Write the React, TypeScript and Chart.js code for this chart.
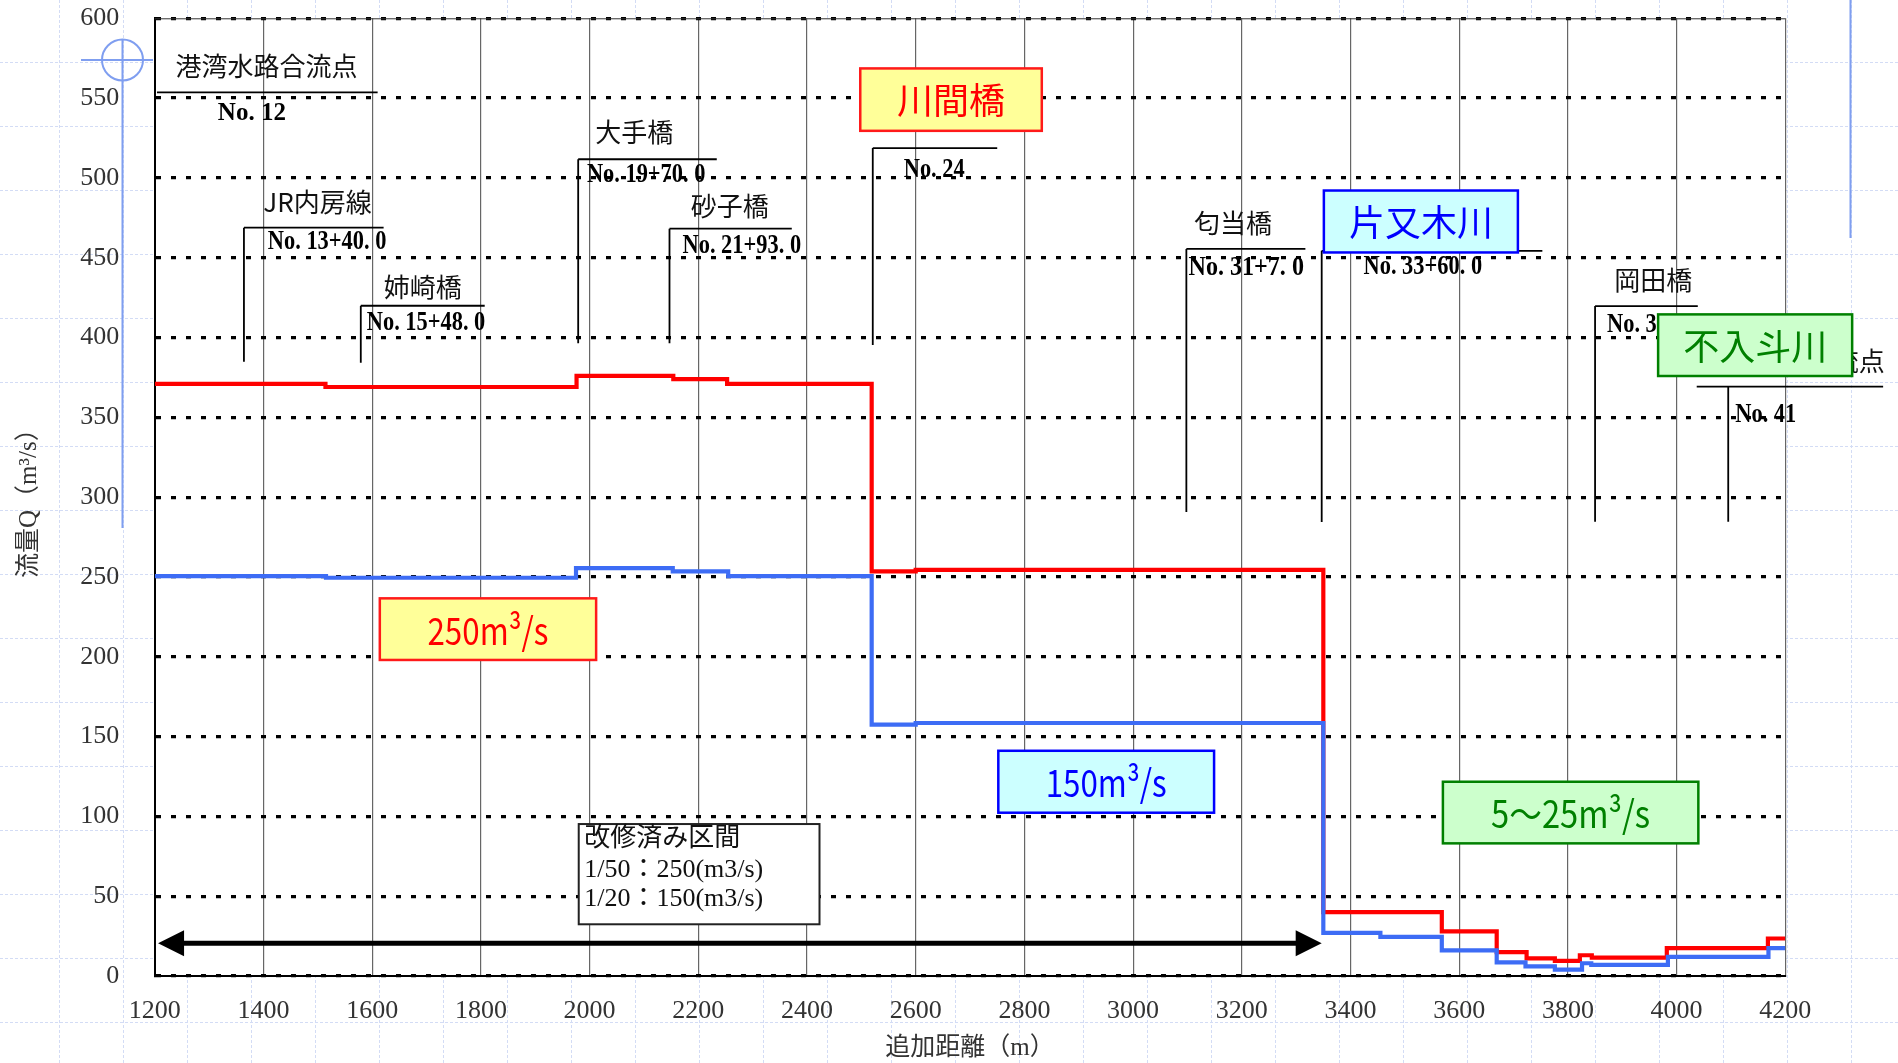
import React, { useEffect, useRef } from 'react';
import { Chart, registerables } from 'chart.js';

Chart.register(...registerables);

// ---------------- data ----------------
const xMin = 1200;
const xMax = 4200;
const xStep = 200;
const yMin = 0;
const yMax = 600;
const yStep = 50;

const xTitle = '追加距離（m）';
const yTitle = '流量Q（m³/s）';

// 1/50 design flow (red), value holds from each distance up to the next one
const redDistance = [1200, 1514, 1976, 2154, 2253, 2519, 2600, 3350, 3568, 3669, 3724, 3776, 3822, 3844, 3982, 4168, 4200];
const redFlow = [371, 369, 376, 374, 371, 253.5, 254.5, 40, 28, 15, 11, 9.5, 13, 11.5, 17.5, 23.5, 23.5];

// 1/20 design flow (blue)
const blueDistance = [1200, 1515, 1975, 2153, 2255, 2519, 2600, 3350, 3455, 3568, 3669, 3722, 3776, 3826, 3843, 3984, 4169, 4200];
const blueFlow = [250.5, 249.5, 255.5, 253.5, 250.5, 157.5, 158.5, 27, 24.5, 16, 8.5, 6, 4, 8, 7, 12, 17.5, 17.5];

// ---------------- annotation layout (data units: x = m, y = m3/s) ----------------
type Leader = {
  vx?: number; vBottom?: number; hy: number; hStart: number; hEnd: number;
  name?: string; nameX?: number; nameY?: number; nameAlign?: CanvasTextAlign;
  no?: string; noX?: number; noY?: number; noSize?: number; noScale?: number;
};

const leaders: Leader[] = [
  { hy: 553.6, hStart: 1204, hEnd: 1610, name: '港湾水路合流点', nameX: 1405.5, nameY: 569.8, no: 'No. 12', noX: 1316, noY: 540.3, noSize: 25, noScale: 1 },
  { vx: 1364, vBottom: 384.9, hy: 468.8, hStart: 1364, hEnd: 1621, name: 'JR内房線', nameX: 1499.5, nameY: 484.9, no: 'No. 13+40. 0', noX: 1408, noY: 459.8 },
  { vx: 1579, vBottom: 384.2, hy: 419.9, hStart: 1579, hEnd: 1807, name: '姉崎橋', nameX: 1693, nameY: 431.8, no: 'No. 15+48. 0', noX: 1590, noY: 409.1 },
  { vx: 1979, vBottom: 396.4, hy: 511.7, hStart: 1979, hEnd: 2234, name: '大手橋', nameX: 2082, nameY: 528.4, no: 'No. 19+70. 0', noX: 1995, noY: 502.1 },
  { vx: 2147, vBottom: 396.4, hy: 468.2, hStart: 2147, hEnd: 2372, name: '砂子橋', nameX: 2258, nameY: 482.4, no: 'No. 21+93. 0', noX: 2171, noY: 457.3 },
  { vx: 2521, vBottom: 395.4, hy: 518.7, hStart: 2521, hEnd: 2750, no: 'No. 24', noX: 2578, noY: 505 },
  { vx: 3098, vBottom: 290.7, hy: 455.5, hStart: 3098, hEnd: 3317, name: '匂当橋', nameX: 3184, nameY: 471.7, no: 'No. 31+7. 0', noX: 3102, noY: 443.9, noScale: 0.86 },
  { vx: 3347, vBottom: 284.4, hy: 454.3, hStart: 3347, hEnd: 3753, no: 'No. 33+60. 0', noX: 3424, noY: 444.5 },
  { vx: 3850, vBottom: 284.6, hy: 419.7, hStart: 3850, hEnd: 4039, name: '岡田橋', nameX: 3957, nameY: 436, no: 'No. 38', noX: 3872, noY: 407.8 },
  { vx: 4095, vBottom: 284.6, hy: 369.2, hStart: 4037, hEnd: 4380, name: '不入斗川合流点', nameX: 4383, nameY: 385.3, nameAlign: 'right', no: 'No. 41', noX: 4108, noY: 351.5 },
];

type Box = {
  x1: number; x2: number; y1: number; y2: number; text: string;
  fill: string; stroke: string; color: string; size: number; fitWidth?: number;
};

const boxes: Box[] = [
  { x1: 2498, x2: 2832, y1: 568.6, y2: 529.5, text: '川間橋', fill: '#ffff99', stroke: '#ff1a1a', color: '#ff0000', size: 36 },
  { x1: 3351, x2: 3708, y1: 492.1, y2: 453.3, text: '片又木川', fill: '#ccffff', stroke: '#0000ff', color: '#0000ff', size: 36 },
  { x1: 3966, x2: 4323, y1: 414.5, y2: 375.9, text: '不入斗川', fill: '#ccffcc', stroke: '#008000', color: '#008000', size: 36 },
  { x1: 1614, x2: 2012, y1: 236.6, y2: 198, text: '250m³/s', fill: '#ffff99', stroke: '#ff1a1a', color: '#ff0000', size: 38, fitWidth: 121 },
  { x1: 2752, x2: 3149, y1: 141.1, y2: 102.3, text: '150m³/s', fill: '#ccffff', stroke: '#0000ff', color: '#0000ff', size: 38, fitWidth: 121 },
  { x1: 3570, x2: 4040, y1: 121.7, y2: 83.1, text: '5～25m³/s', fill: '#ccffcc', stroke: '#008000', color: '#008000', size: 38, fitWidth: 159 },
];

const noteBox = { x1: 1980, x2: 2423, y1: 95.2, y2: 32.4, textX: 1990 };
const noteLines = ['改修済み区間', '1/50：250(m3/s)', '1/20：150(m3/s)'];
const noteLineY = [85.8, 66.4, 48.2];

const arrow = { x1: 1206, x2: 3347, y: 20.5 };

// ---------------- styles ----------------
const W = 1898;
const H = 1063;
const RED = '#ff0000';
const BLUE = '#3d6cf5';
const SERIF = "'Liberation Serif', 'Noto Sans CJK JP', serif";
const GOTHIC = "'Noto Sans CJK JP', 'Noto Sans', sans-serif";
const DECO = '#7f9ef0';

function drawText(
  ctx: CanvasRenderingContext2D, text: string, x: number, y: number, font: string,
  color: string, align: CanvasTextAlign, scaleX = 1,
) {
  ctx.save();
  ctx.font = font;
  ctx.fillStyle = color;
  ctx.textBaseline = 'middle';
  ctx.textAlign = align;
  ctx.translate(x, y);
  ctx.scale(scaleX, 1);
  ctx.fillText(text, 0, 0);
  ctx.restore();
}

const annotationPlugin = {
  id: 'slideAnnotations',
  beforeDraw(chart: any) {
    const { ctx, chartArea, width, height } = chart;
    ctx.save();
    ctx.fillStyle = '#ffffff';
    ctx.fillRect(0, 0, width, height);
    // slide background grid
    ctx.strokeStyle = '#d3dcf5';
    ctx.lineWidth = 1;
    ctx.setLineDash([3, 2]);
    for (let x = 59; x < width; x += 64) {
      ctx.beginPath();
      ctx.moveTo(x + 0.5, 0);
      ctx.lineTo(x + 0.5, height);
      ctx.stroke();
    }
    for (let y = 62; y < height; y += 64) {
      ctx.beginPath();
      ctx.moveTo(0, y + 0.5);
      ctx.lineTo(width, y + 0.5);
      ctx.stroke();
    }
    ctx.setLineDash([]);
    // plot area
    ctx.fillStyle = '#ffffff';
    ctx.fillRect(chartArea.left, chartArea.top, chartArea.right - chartArea.left, chartArea.bottom - chartArea.top);
    // decorative slide marks
    ctx.strokeStyle = DECO;
    ctx.lineWidth = 2;
    ctx.beginPath();
    ctx.arc(122.5, 60, 20.5, 0, Math.PI * 2);
    ctx.stroke();
    ctx.beginPath();
    ctx.moveTo(81, 60);
    ctx.lineTo(153, 60);
    ctx.moveTo(122.5, 39);
    ctx.lineTo(122.5, 528);
    ctx.moveTo(1850.5, 0);
    ctx.lineTo(1850.5, 238);
    ctx.stroke();
    ctx.restore();
  },
  afterDraw(chart: any) {
    const { ctx, chartArea } = chart;
    const xs = chart.scales.x;
    const ys = chart.scales.y;
    const px = (v: number) => xs.getPixelForValue(v);
    const py = (v: number) => ys.getPixelForValue(v);
    ctx.save();
    // top frame line
    ctx.strokeStyle = '#333';
    ctx.lineWidth = 1;
    ctx.beginPath();
    ctx.moveTo(chartArea.left, chartArea.top + 0.5);
    ctx.lineTo(chartArea.right, chartArea.top + 0.5);
    ctx.stroke();

    // leaders and station labels
    ctx.strokeStyle = '#000';
    ctx.lineWidth = 1.8;
    for (const l of leaders) {
      ctx.beginPath();
      if (l.vx !== undefined && l.vBottom !== undefined) {
        ctx.moveTo(px(l.vx), py(l.vBottom));
        ctx.lineTo(px(l.vx), py(l.hy));
      }
      ctx.moveTo(px(l.hStart), py(l.hy));
      ctx.lineTo(px(l.hEnd), py(l.hy));
      ctx.stroke();
      if (l.name) {
        drawText(ctx, l.name, px(l.nameX!), py(l.nameY!), `26px ${GOTHIC}`, '#111', l.nameAlign || 'center');
      }
      if (l.no) {
        const size = l.noSize || 28;
        drawText(ctx, l.no, px(l.noX!), py(l.noY!), `bold ${size}px ${SERIF}`, '#000', 'left', l.noScale ?? 0.8);
      }
    }

    // coloured label boxes
    for (const b of boxes) {
      const x1 = px(b.x1), x2 = px(b.x2), y1 = py(b.y1), y2 = py(b.y2);
      ctx.fillStyle = b.fill;
      ctx.fillRect(x1, y1, x2 - x1, y2 - y1);
      ctx.strokeStyle = b.stroke;
      ctx.lineWidth = 2.5;
      ctx.strokeRect(x1, y1, x2 - x1, y2 - y1);
      ctx.font = `${b.size}px ${GOTHIC}`;
      let sc = 1;
      if (b.fitWidth) sc = b.fitWidth / ctx.measureText(b.text).width;
      drawText(ctx, b.text, (x1 + x2) / 2, (y1 + y2) / 2 + 1, `${b.size}px ${GOTHIC}`, b.color, 'center', sc);
    }

    // note box
    {
      const x1 = px(noteBox.x1), x2 = px(noteBox.x2), y1 = py(noteBox.y1), y2 = py(noteBox.y2);
      ctx.fillStyle = '#ffffff';
      ctx.fillRect(x1, y1, x2 - x1, y2 - y1);
      ctx.strokeStyle = '#222';
      ctx.lineWidth = 2;
      ctx.strokeRect(x1, y1, x2 - x1, y2 - y1);
      noteLines.forEach((t, i) => {
        drawText(ctx, t, px(noteBox.textX), py(noteLineY[i]), `26px ${SERIF}`, '#111', 'left');
      });
    }

    // double arrow
    {
      const ax1 = px(arrow.x1), ax2 = px(arrow.x2), ay = py(arrow.y);
      const hl = 26, hw = 13;
      ctx.strokeStyle = '#000';
      ctx.fillStyle = '#000';
      ctx.lineWidth = 5;
      ctx.beginPath();
      ctx.moveTo(ax1 + hl - 2, ay);
      ctx.lineTo(ax2 - hl + 2, ay);
      ctx.stroke();
      ctx.beginPath();
      ctx.moveTo(ax1, ay);
      ctx.lineTo(ax1 + hl, ay - hw);
      ctx.lineTo(ax1 + hl, ay + hw);
      ctx.closePath();
      ctx.fill();
      ctx.beginPath();
      ctx.moveTo(ax2, ay);
      ctx.lineTo(ax2 - hl, ay - hw);
      ctx.lineTo(ax2 - hl, ay + hw);
      ctx.closePath();
      ctx.fill();
    }
    ctx.restore();
  },
};

export default function App() {
  const ref = useRef<HTMLCanvasElement | null>(null);

  useEffect(() => {
    document.body.style.margin = '0';
    document.body.style.overflow = 'hidden';
    const canvas = ref.current;
    if (!canvas) return;
    const chart = new Chart(canvas, {
      type: 'line',
      data: {
        datasets: [
          {
            label: '1/20',
            data: blueDistance.map((x, i) => ({ x, y: blueFlow[i] })),
            borderColor: BLUE,
            backgroundColor: BLUE,
            borderWidth: 4.2,
            stepped: true,
            pointRadius: 0,
            fill: false,
            borderJoinStyle: 'miter',
          },
          {
            label: '1/50',
            data: redDistance.map((x, i) => ({ x, y: redFlow[i] })),
            borderColor: RED,
            backgroundColor: RED,
            borderWidth: 4.2,
            stepped: true,
            pointRadius: 0,
            fill: false,
            borderJoinStyle: 'miter',
          },
        ],
      },
      options: {
        responsive: false,
        animation: false,
        devicePixelRatio: 1,
        events: [],
        layout: { padding: { left: 0, right: 112.7, top: 18.3, bottom: 0 } },
        plugins: {
          legend: { display: false },
          tooltip: { enabled: false },
        },
        scales: {
          x: {
            type: 'linear',
            min: xMin,
            max: xMax,
            ticks: {
              stepSize: xStep,
              autoSkip: false,
              maxRotation: 0,
              padding: 20,
              color: '#333',
              font: { family: SERIF, size: 26 },
              callback: (v: any) => String(v),
            },
            grid: { color: '#666', lineWidth: 1.2, drawTicks: false },
            border: { color: '#000', width: 2 },
            title: {
              display: true,
              text: xTitle,
              color: '#333',
              font: { family: SERIF, size: 25 },
              padding: { top: 0, bottom: 0 },
            },
            afterFit: (s: any) => { s.height = 87; s.paddingLeft = 0; s.paddingRight = 0; },
          },
          y: {
            type: 'linear',
            min: yMin,
            max: yMax,
            ticks: {
              stepSize: yStep,
              padding: 35.5,
              color: '#333',
              font: { family: SERIF, size: 26 },
              callback: (v: any) => String(v),
            },
            grid: { color: '#000', lineWidth: 3.3, drawTicks: false },
            border: { color: '#000', width: 2, dash: [5, 10] },
            title: {
              display: true,
              text: yTitle,
              color: '#333',
              font: { family: SERIF, size: 25 },
              padding: { top: 14, bottom: 0 },
            },
            afterFit: (s: any) => { s.width = 154.8; s.paddingTop = 0; s.paddingBottom = 0; },
          },
        },
      } as any,
      plugins: [annotationPlugin],
    });
    return () => chart.destroy();
  }, []);

  return (
    <div style={{ width: W, height: H, position: 'relative' }}>
      <canvas ref={ref} width={W} height={H} style={{ display: 'block', width: W, height: H }} />
    </div>
  );
}
